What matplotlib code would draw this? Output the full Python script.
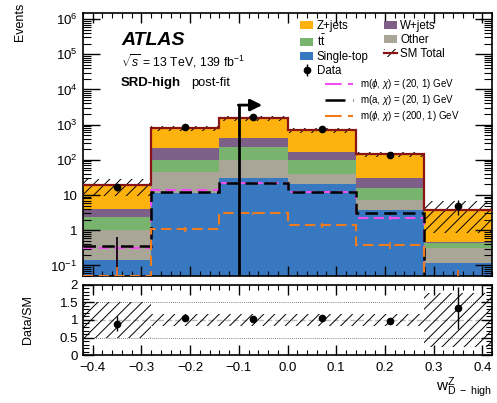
import numpy as np
import matplotlib
matplotlib.use("Agg")
import matplotlib.pyplot as plt
from matplotlib.patches import Patch
from matplotlib.lines import Line2D
from matplotlib.ticker import FixedLocator, FixedFormatter, LogLocator, MultipleLocator, NullFormatter

plt.rcParams['font.family'] = ['Liberation Sans', 'DejaVu Sans']
plt.rcParams['mathtext.fontset'] = 'custom'
plt.rcParams['mathtext.rm'] = 'Liberation Sans'
plt.rcParams['mathtext.it'] = 'Liberation Sans:italic'
plt.rcParams['mathtext.bf'] = 'Liberation Sans:bold'
plt.rcParams['hatch.linewidth'] = 0.7
plt.rcParams['axes.linewidth'] = 1.2

# bin edges of w^Z_D-high
edges = np.array([-0.42, -0.28, -0.14, 0.0, 0.14, 0.28, 0.42])

# backgrounds, stacked from bottom to top
single_top = [0.14, 11.3, 30, 20, 3.7, 0.12]
other = [0.86, 33.7, 69, 19, 3.5, 0.19]
ttbar = [1.35, 54, 132, 60, 8.5, 0.12]
wjets = [1.65, 118, 187, 67, 14.3, 0.025]
zjets = [15, 588, 1132, 539, 116, 3.25]
sm_unc = [0.5, 0.16, 0.16, 0.16, 0.16, 0.78]   # relative uncertainty on SM total

data = [17, 860, 1600, 740, 140, 5]
data_err = [4.1, 29, 40, 27, 12, 2.2]

# signals
sig_phi20 = [0.31, 13.8, 22, 12.5, 2.2, 0.04]
sig_phi20_err = [0.3, 0.6, 0.8, 0.6, 0.3, 0.03]
sig_a20 = [0.35, 12, 21.8, 12, 3.05, 0.04]
sig_a20_err = [0.28, 0.6, 0.8, 0.6, 0.35, 0.03]
sig_phi200 = [0.05, 1.07, 3.05, 1.39, 0.37, 0.045]
sig_phi200_err = [0.04, 0.15, 0.25, 0.2, 0.08, 0.03]

cut_x = -0.1
cut_top = 3600
cut_arrow_end = -0.052

ytick_vals = [0.1, 1, 10, 1e2, 1e3, 1e4, 1e5, 1e6]
ytick_labels = ['$10^{-1}$', '1', '10', '$10^{2}$', '$10^{3}$', '$10^{4}$', '$10^{5}$', '$10^{6}$']
rtick_vals = [0, 0.5, 1, 1.5, 2]
rtick_labels = ['0', '0.5', '1', '1.5', '2']

c_z = '#fdb20e'
c_w = '#7e5f88'
c_tt = '#79b46f'
c_other = '#a9a698'
c_st = '#3878c0'
c_total = '#8a1414'
c_mag = '#ee4fee'
c_org = '#f07c1e'

fig = plt.figure(figsize=(4.97, 4.03), dpi=100)
ax = fig.add_axes([0.167, 0.315, 0.823, 0.653])
axr = fig.add_axes([0.167, 0.119, 0.823, 0.174])

centers = 0.5 * (edges[:-1] + edges[1:])

# stacked histogram
layers = [single_top, other, ttbar, wjets, zjets]
colors = [c_st, c_other, c_tt, c_w, c_z]
bottom = np.zeros(len(centers))
for vals, col in zip(layers, colors):
    top = bottom + np.array(vals)
    ax.stairs(top, edges, baseline=bottom if bottom.any() else 1e-5, fill=True,
              facecolor=col, edgecolor='none', zorder=1)
    bottom = top
total = bottom
unc = np.array(sm_unc)

ax.stairs(total * (1 + unc), edges, baseline=total * (1 - unc), fill=True,
          facecolor='none', edgecolor='black', hatch='///', lw=0, zorder=2)
ax.stairs(total, edges, baseline=None, color=c_total, lw=1.6, zorder=3)

# signals
for vals, err, col, lw in [(sig_phi20, sig_phi20_err, c_mag, 1.5),
                           (sig_a20, sig_a20_err, 'black', 1.8),
                           (sig_phi200, sig_phi200_err, c_org, 1.5)]:
    ax.stairs(vals, edges, baseline=None, color=col, lw=lw, ls=(0, (5, 2.5)), zorder=4)
    ax.errorbar(centers, vals, yerr=err, fmt='none', ecolor=col, elinewidth=1.2, zorder=4)

# data
dat = ax.errorbar(centers, data, yerr=data_err, fmt='o', color='black', ms=4.5,
                  elinewidth=1, capsize=0, zorder=6)

# cut arrow
ax.plot([cut_x, cut_x], [0.05, cut_top], color='black', lw=2, zorder=5)
ax.annotate('', xy=(cut_arrow_end, cut_top), xytext=(cut_x - 0.001, cut_top),
            arrowprops=dict(arrowstyle='-|>,head_length=0.7,head_width=0.35',
                            color='black', lw=2, shrinkA=0, shrinkB=0), zorder=5)

ax.set_yscale('log')
ax.set_xlim(edges[0], edges[-1])
ax.set_ylim(0.05, 1.5e6)
ax.yaxis.set_major_locator(FixedLocator(ytick_vals))
ax.yaxis.set_major_formatter(FixedFormatter(ytick_labels))
ax.yaxis.set_minor_locator(LogLocator(base=10, subs=np.arange(2, 10), numticks=20))
ax.yaxis.set_minor_formatter(NullFormatter())
ax.xaxis.set_major_locator(MultipleLocator(0.1))
ax.xaxis.set_minor_locator(MultipleLocator(0.02))
ax.tick_params(axis='both', which='both', direction='in', top=True, right=True)
ax.tick_params(axis='x', labelbottom=False)
ax.tick_params(axis='y', which='major', length=12, width=1, labelsize=9.5, pad=4)
ax.tick_params(axis='y', which='minor', length=6, width=0.8)
ax.tick_params(axis='x', which='major', length=7, width=1)
ax.tick_params(axis='x', which='minor', length=3.5, width=0.8)
ax.set_ylabel('Events', loc='top', fontsize=9)
ax.yaxis.set_label_coords(-0.14, 1.04)

# labels
ax.text(0.095, 0.897, 'ATLAS', transform=ax.transAxes, fontsize=14, fontweight='bold',
        fontstyle='italic', va='center')
ax.text(0.093, 0.817, r'$\sqrt{s}$ = 13 TeV, 139 fb$^{-1}$', transform=ax.transAxes,
        fontsize=8.8, va='center')
ax.text(0.093, 0.734, 'SRD-high', transform=ax.transAxes, fontsize=9.5,
        fontweight='bold', va='center')
ax.text(0.264, 0.734, 'post-fit', transform=ax.transAxes, fontsize=9.3, va='center')

# legends
h_z = Patch(facecolor=c_z)
h_w = Patch(facecolor=c_w)
h_tt = Patch(facecolor=c_tt)
h_o = Patch(facecolor=c_other)
h_st = Patch(facecolor=c_st)
h_tot = (Patch(facecolor='none', edgecolor='black', hatch='///', lw=0),
         Line2D([], [], color=c_total, lw=1.6))
leg1 = ax.legend([h_z, h_tt, h_st, dat, h_w, h_o, h_tot],
                 ['Z+jets', r't$\bar{\mathrm{t}}$', 'Single-top', 'Data',
                  'W+jets', 'Other', 'SM Total'],
                 ncol=2, loc='upper left', bbox_to_anchor=(300 / 497, 1 - 20 / 403),
                 bbox_transform=fig.transFigure, frameon=False, fontsize=8.3,
                 borderpad=0, borderaxespad=0, handlelength=1.15, handleheight=0.7,
                 handletextpad=0.3, columnspacing=1.3, labelspacing=0.16)
ax.add_artist(leg1)

s_handles = [Line2D([], [], color=c_mag, lw=1.5, ls=(0, (8, 3))),
             Line2D([], [], color='black', lw=1.8, ls=(0, (8, 3))),
             Line2D([], [], color=c_org, lw=1.5, ls=(0, (8, 3)))]
ax.legend(s_handles,
          [r'm($\phi$, $\chi$) = (20, 1) GeV', r'm(a, $\chi$) = (20, 1) GeV',
           r'm($\phi$, $\chi$) = (200, 1) GeV'],
          loc='upper left', bbox_to_anchor=(325 / 497, 1 - 77 / 403),
          bbox_transform=fig.transFigure, frameon=False, fontsize=7,
          borderpad=0, borderaxespad=0, handlelength=2.9, handletextpad=0.7,
          labelspacing=0.22)

# ratio panel
ratio = np.array(data) / total
ratio_err = np.array(data_err) / total
axr.stairs(1 + unc, edges, baseline=1 - unc, fill=True, facecolor='none',
           edgecolor='black', hatch='///', lw=0, zorder=2)
axr.axhline(1, color='#bbbbbb', lw=1, ls=(0, (4, 2)), zorder=1)
for lvl in [0.5, 1.5]:
    axr.axhline(lvl, color='#555555', lw=0.6, ls=(0, (1, 1.5)), zorder=1)
axr.errorbar(centers, ratio, yerr=ratio_err, fmt='o', color='black', ms=4.5,
             elinewidth=1, capsize=0, zorder=5)
axr.set_xlim(edges[0], edges[-1])
axr.set_ylim(0, 2)
axr.yaxis.set_major_locator(FixedLocator(rtick_vals))
axr.yaxis.set_major_formatter(FixedFormatter(rtick_labels))
axr.yaxis.set_minor_locator(MultipleLocator(0.1))
axr.xaxis.set_major_locator(MultipleLocator(0.1))
axr.xaxis.set_minor_locator(MultipleLocator(0.02))
axr.tick_params(axis='both', which='both', direction='in', top=True, right=True,
                labelsize=9.5)
axr.tick_params(axis='y', which='major', length=8, width=1)
axr.tick_params(axis='y', which='minor', length=4, width=0.8)
axr.tick_params(axis='x', which='major', length=7, width=1, pad=5)
axr.tick_params(axis='x', which='minor', length=3.5, width=0.8)
axr.set_ylabel('Data/SM', fontsize=9)
axr.yaxis.set_label_coords(-0.12, 0.5)
axr.set_xlabel(r'$\mathrm{w}^{\mathrm{Z}}_{\mathrm{D\ -\ high}}$', loc='right',
               fontsize=11, labelpad=1)

fig.savefig('out.png', dpi=100)
